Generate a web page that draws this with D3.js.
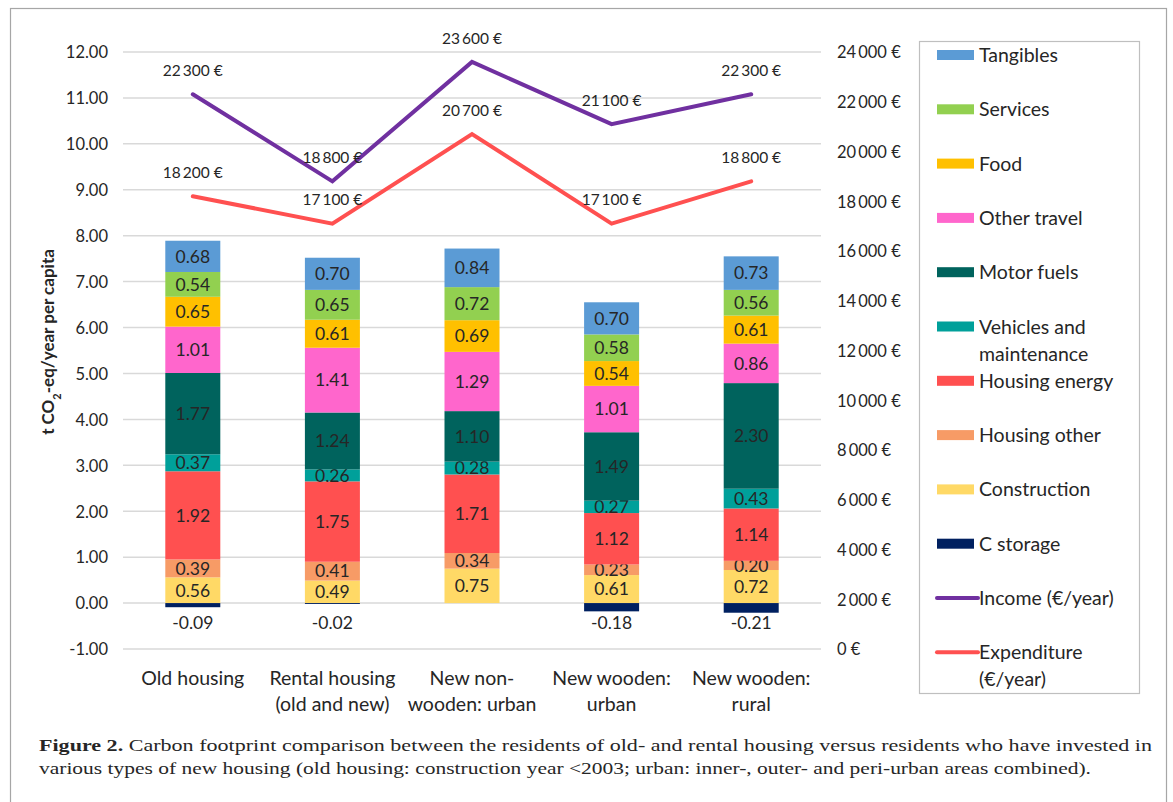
<!DOCTYPE html>
<html>
<head>
<meta charset="utf-8">
<script src="https://cdn.jsdelivr.net/npm/d3@7"></script>
<style>
  html, body { margin: 0; padding: 0; background: #fff; }
  svg { display: block; }
  text { font-family: Lato, "Noto Sans", sans-serif; fill: #262626; }
</style>
</head>
<body>
<svg id="chart" width="1173" height="802"></svg>
<script>
// ---------------- DATA ----------------
const categories = ["Old housing", "Rental housing (old and new)", "New non-wooden: urban", "New wooden: urban", "New wooden: rural"];
const categoryLines = [["Old housing"], ["Rental housing", "(old and new)"], ["New non-", "wooden: urban"], ["New wooden:", "urban"], ["New wooden:", "rural"]];

const construction   = [0.56, 0.49, 0.75, 0.61, 0.72];
const housingOther   = [0.39, 0.41, 0.34, 0.23, 0.20];
const housingEnergy  = [1.92, 1.75, 1.71, 1.12, 1.14];
const vehicles       = [0.37, 0.26, 0.28, 0.27, 0.43];
const motorFuels     = [1.77, 1.24, 1.10, 1.49, 2.30];
const otherTravel    = [1.01, 1.41, 1.29, 1.01, 0.86];
const food           = [0.65, 0.61, 0.69, 0.54, 0.61];
const services       = [0.54, 0.65, 0.72, 0.58, 0.56];
const tangibles      = [0.68, 0.70, 0.84, 0.70, 0.73];
const cStorage       = [-0.09, -0.02, 0, -0.18, -0.21];

const income      = [22300, 18800, 23600, 21100, 22300];
const expenditure = [18200, 17100, 20700, 17100, 18800];

const leftTicks  = [-1, 0, 1, 2, 3, 4, 5, 6, 7, 8, 9, 10, 11, 12];
const rightTicks = [0, 2000, 4000, 6000, 8000, 10000, 12000, 14000, 16000, 18000, 20000, 22000, 24000];

const seriesNames = ["Construction", "Housing other", "Housing energy", "Vehicles and maintenance", "Motor fuels", "Other travel", "Food", "Services", "Tangibles"];
const seriesValues = [construction, housingOther, housingEnergy, vehicles, motorFuels, otherTravel, food, services, tangibles];
const seriesColors = ["#FFD966", "#F79B66", "#FF5050", "#00A09A", "#00635D", "#FF66CC", "#FFC000", "#92D050", "#5B9BD5"];
const cStorageColor = "#002060";
const incomeColor = "#7030A0";
const expenditureColor = "#FF5050";

const legendItems = [
  {label: ["Tangibles"], color: "#5B9BD5", type: "rect"},
  {label: ["Services"], color: "#92D050", type: "rect"},
  {label: ["Food"], color: "#FFC000", type: "rect"},
  {label: ["Other travel"], color: "#FF66CC", type: "rect"},
  {label: ["Motor fuels"], color: "#00635D", type: "rect"},
  {label: ["Vehicles and", "maintenance"], color: "#00A09A", type: "rect"},
  {label: ["Housing energy"], color: "#FF5050", type: "rect"},
  {label: ["Housing other"], color: "#F79B66", type: "rect"},
  {label: ["Construction"], color: "#FFD966", type: "rect"},
  {label: ["C storage"], color: "#002060", type: "rect"},
  {label: ["Income (€/year)"], color: "#7030A0", type: "line"},
  {label: ["Expenditure", "(€/year)"], color: "#FF5050", type: "line"}
];

// ---------------- LAYOUT ----------------
const svg = d3.select("#chart");
const plotLeft = 123, plotRight = 821, plotTop = 52, plotBottom = 649;
const f2 = v => d3.format(".2f")(v).replace("\u2212", "-");

// outer frame
svg.append("rect").attr("x", 10.5).attr("y", 8.5).attr("width", 1156).attr("height", 800)
  .attr("fill", "none").attr("stroke", "#a6a6a6").attr("stroke-width", 1.2);

const x = d3.scaleBand().domain(categories).range([plotLeft, plotRight]).paddingInner(0.606).paddingOuter(0.303);
const yL = d3.scaleLinear().domain([-1, 12]).range([plotBottom, plotTop]);
const yR = d3.scaleLinear().domain([0, 24000]).range([plotBottom, plotTop]);

// gridlines
svg.append("g").selectAll("line").data(leftTicks).join("line")
  .attr("x1", plotLeft).attr("x2", plotRight)
  .attr("y1", d => yL(d)).attr("y2", d => yL(d))
  .attr("stroke", "#d9d9d9").attr("stroke-width", 1.5);

// left axis
const leftAxis = d3.axisLeft(yL).tickValues(leftTicks).tickFormat(f2).tickSize(0).tickPadding(0);
const gL = svg.append("g").attr("transform", `translate(${plotLeft - 15},0)`).call(leftAxis);
gL.select(".domain").remove();
gL.selectAll("text").style("font-size", "16.5px").attr("fill", "#262626").attr("dy", "0.35em").attr("x", 0);

// right axis
const fmtEuro = v => (v === 0 ? "0" : d3.format(",")(v).replace(/,/g, "\u2009")) + "\u00a0€";
const rightAxis = d3.axisRight(yR).tickValues(rightTicks).tickFormat(fmtEuro).tickSize(0).tickPadding(0);
const gR = svg.append("g").attr("transform", `translate(${plotRight + 16},0)`).call(rightAxis);
gR.select(".domain").remove();
gR.selectAll("text").style("font-size", "16.5px").attr("fill", "#262626").attr("dy", "0.35em").attr("x", 0);

// stacked bars
const bw = x.bandwidth();
categories.forEach((c, i) => {
  let base = 0;
  seriesValues.forEach((vals, s) => {
    const v = vals[i];
    const y0 = yL(base), y1 = yL(base + v);
    svg.append("rect").attr("x", x(c)).attr("width", bw)
      .attr("y", y1).attr("height", y0 - y1).attr("fill", seriesColors[s]);
    svg.append("text").attr("x", x(c) + bw / 2).attr("y", (y0 + y1) / 2).attr("dy", "0.36em")
      .attr("text-anchor", "middle").style("font-size", "17.5px").attr("fill", "#1f1f1f")
      .text(f2(v));
    base += v;
  });
  const cs = cStorage[i];
  if (cs !== 0) {
    svg.append("rect").attr("x", x(c)).attr("width", bw)
      .attr("y", yL(0)).attr("height", yL(cs) - yL(0)).attr("fill", cStorageColor);
    svg.append("text").attr("x", x(c) + bw / 2).attr("y", yL(0) + 20).attr("dy", "0.36em")
      .attr("text-anchor", "middle").style("font-size", "17.5px").attr("fill", "#1f1f1f")
      .text(f2(cs));
  }
});

// lines
const cx = c => x(c) + bw / 2;
function drawLine(vals, color) {
  const line = d3.line().x((d, i) => cx(categories[i])).y(d => yR(d));
  svg.append("path").datum(vals).attr("d", line).attr("fill", "none")
    .attr("stroke", color).attr("stroke-width", 4).attr("stroke-linejoin", "miter").attr("stroke-linecap", "round");
  vals.forEach((v, i) => {
    svg.append("text").attr("x", cx(categories[i])).attr("y", yR(v) - 24).attr("dy", "0.36em")
      .attr("text-anchor", "middle").style("font-size", "15.5px").attr("fill", "#262626")
      .text(fmtEuro(v));
  });
}
drawLine(expenditure, expenditureColor);
drawLine(income, incomeColor);

// category labels
categories.forEach((c, i) => {
  const t = svg.append("text").attr("x", cx(c)).attr("y", 678)
    .attr("text-anchor", "middle").style("font-size", "19.5px").attr("fill", "#262626");
  categoryLines[i].forEach((ln, k) => {
    t.append("tspan").attr("x", cx(c)).attr("dy", k === 0 ? "0.36em" : "1.33em").text(ln);
  });
});

// y-axis title
const yt = svg.append("text").attr("transform", "translate(54,342) rotate(-90)")
  .attr("text-anchor", "middle").style("font-size", "17px").style("font-weight", "bold").attr("fill", "#1a1a1a");
yt.append("tspan").text("t CO");
yt.append("tspan").attr("baseline-shift", "sub").style("font-size", "11px").text("2");
yt.append("tspan").text("-eq/year per capita");

// legend
svg.append("rect").attr("x", 919.5).attr("y", 41.5).attr("width", 220).attr("height", 652)
  .attr("fill", "#fff").attr("stroke", "#bfbfbf").attr("stroke-width", 1.2);
const legendY0 = 55, legendStep = 54.3;
legendItems.forEach((it, k) => {
  const yy = legendY0 + k * legendStep;
  if (it.type === "rect") {
    svg.append("rect").attr("x", 937).attr("y", yy - 5).attr("width", 37).attr("height", 10).attr("fill", it.color);
  } else {
    svg.append("line").attr("x1", 937).attr("x2", 978).attr("y1", yy).attr("y2", yy)
      .attr("stroke", it.color).attr("stroke-width", 4).attr("stroke-linecap", "round");
  }
  it.label.forEach((ln, j) => {
    svg.append("text").attr("x", 979).attr("y", yy + j * 27).attr("dy", "0.36em")
      .style("font-size", "19.5px").attr("fill", "#262626").text(ln);
  });
});

// caption
const cap1 = svg.append("text").attr("x", 39).attr("y", 751)
  .style("font-family", "'Liberation Serif', serif").style("font-size", "17.5px").attr("fill", "#1a1a1a")
  .attr("textLength", 1113).attr("lengthAdjust", "spacingAndGlyphs");
cap1.append("tspan").style("font-weight", "bold").text("Figure 2.");
cap1.append("tspan").text(" Carbon footprint comparison between the residents of old- and rental housing versus residents who have invested in");
svg.append("text").attr("x", 39).attr("y", 774)
  .style("font-family", "'Liberation Serif', serif").style("font-size", "17.5px").attr("fill", "#1a1a1a")
  .attr("textLength", 1052).attr("lengthAdjust", "spacingAndGlyphs")
  .text("various types of new housing (old housing: construction year <2003; urban: inner-, outer- and peri-urban areas combined).");
</script>
</body>
</html>
